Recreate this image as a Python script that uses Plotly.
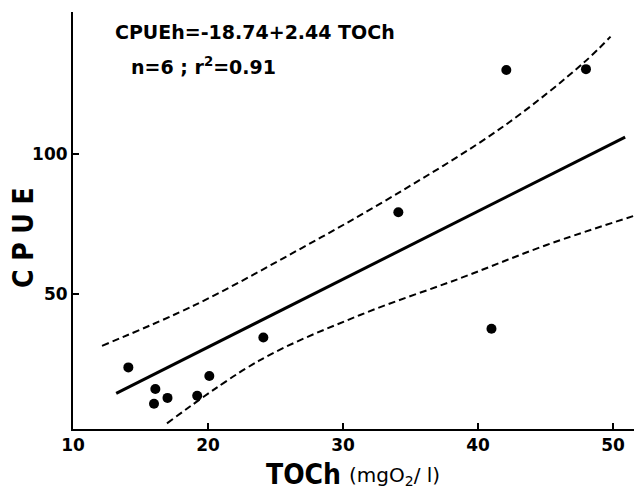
import plotly.graph_objects as go

# Observed points (TOCh, CPUE)
toch = [14.1, 16.1, 16.0, 17.0, 19.2, 20.1, 24.1, 34.1, 42.1, 48.0, 41.0]
cpue = [23.8, 16.1, 10.8, 12.9, 13.7, 20.7, 34.5, 79.2, 130.0, 130.3, 37.6]

# Regression line (read endpoints)
reg_x = [13.2, 50.9]
reg_y = [14.5, 106.0]

# Upper confidence band
up_x = [12.15, 19.05, 26.45, 33.86, 41.87, 47.79, 49.82]
up_y = [31.5, 46.1, 65.1, 85.4, 109.8, 132.4, 141.9]

# Lower confidence band
lo_x = [16.96, 23.86, 31.27, 38.67, 45.08, 52.12]
lo_y = [3.8, 26.4, 42.5, 55.6, 67.5, 78.8]

x_ticks = [10, 20, 30, 40, 50]
y_ticks = [50, 100]

fig = go.Figure()
fig.add_trace(go.Scatter(x=up_x, y=up_y, mode="lines",
                         line=dict(color="black", width=2, dash="7px,4px"),
                         line_shape="spline", hoverinfo="skip"))
fig.add_trace(go.Scatter(x=lo_x, y=lo_y, mode="lines",
                         line=dict(color="black", width=2, dash="7px,4px"),
                         line_shape="spline", hoverinfo="skip"))
fig.add_trace(go.Scatter(x=reg_x, y=reg_y, mode="lines",
                         line=dict(color="black", width=3)))
fig.add_trace(go.Scatter(x=toch, y=cpue, mode="markers",
                         marker=dict(color="black", size=10)))

tickfont = dict(family="DejaVu Sans, sans-serif", size=17, color="black", weight="bold")

# page body has an 8px margin: figure is 634x484, placed at (8, 8)
fig.update_layout(
    width=634, height=484,
    margin=dict(l=65, r=0, t=4, b=63),
    paper_bgcolor="white", plot_bgcolor="white",
    showlegend=False,
    xaxis=dict(range=[10, 52.15], tickvals=x_ticks, ticktext=[str(v) for v in x_ticks],
               showline=True, linecolor="black", linewidth=2,
               ticks="inside", ticklen=6, tickwidth=2, tickcolor="black",
               showgrid=False, zeroline=False, tickfont=tickfont),
    yaxis=dict(range=[1.8, 150.7], tickvals=y_ticks, ticktext=[str(v) for v in y_ticks],
               showline=True, linecolor="black", linewidth=2,
               ticks="inside", ticklen=6, tickwidth=2, tickcolor="black",
               showgrid=False, zeroline=False, tickfont=tickfont),
)

fig.add_annotation(xref="paper", yref="paper", x=0.070, y=0.952, xanchor="left", yanchor="middle",
                   text="CPUEh=-18.74+2.44 TOCh", showarrow=False,
                   font=dict(family="DejaVu Sans, sans-serif", size=19, color="black", weight="bold"))
fig.add_annotation(xref="paper", yref="paper", x=0.099, y=0.870, xanchor="left", yanchor="middle",
                   text="n=6 ; r<sup>2</sup>=0.91", showarrow=False,
                   font=dict(family="DejaVu Sans, sans-serif", size=19, color="black", weight="bold"))
fig.add_annotation(xref="paper", yref="paper", x=-0.088, y=0.46, xanchor="center", yanchor="middle",
                   text="<b>C P U E</b>", textangle=-90, showarrow=False,
                   font=dict(family="DejaVu Sans Condensed, Liberation Sans Narrow, sans-serif", size=28, color="black"))
fig.add_annotation(xref="paper", yref="paper", x=0.475, y=-0.108, xanchor="right", yanchor="middle",
                   text="<b>TOCh</b>", showarrow=False,
                   font=dict(family="DejaVu Sans Condensed, Liberation Sans Narrow, sans-serif", size=28, color="black"))
fig.add_annotation(xref="paper", yref="paper", x=0.482, y=-0.113, xanchor="left", yanchor="middle",
                   text="(mgO<sub>2</sub>/ l)", showarrow=False,
                   font=dict(family="DejaVu Sans, sans-serif", size=20, color="black"))

fig.write_html("out.html")
